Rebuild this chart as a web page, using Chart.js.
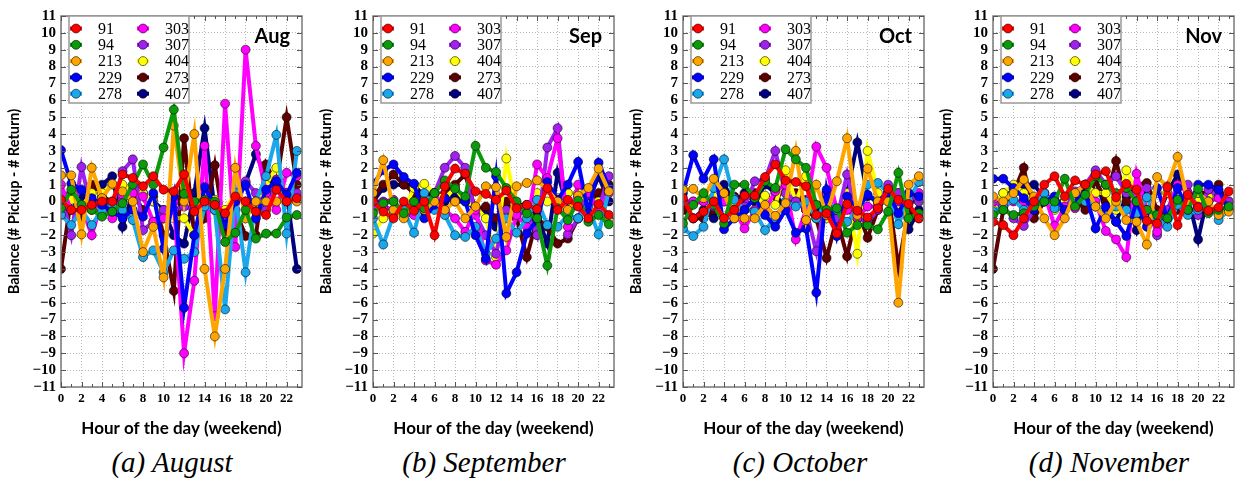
<!DOCTYPE html>
<html><head><meta charset="utf-8">
<script src="https://cdn.jsdelivr.net/npm/chart.js@4.4.0/dist/chart.umd.min.js"></script>
<style>
html,body{margin:0;padding:0;background:#fff;width:1237px;height:484px;overflow:hidden;position:relative}
.panel{position:absolute;top:0;width:310px;height:440px}
.cap{position:absolute;top:446px;font-family:"Liberation Serif",serif;font-style:italic;font-size:29px;white-space:nowrap;transform:translateX(-50%);color:#000}
</style></head><body>
<div class="panel" style="left:-2px"><canvas id="c0" width="310" height="440"></canvas></div>
<div class="panel" style="left:310px"><canvas id="c1" width="310" height="440"></canvas></div>
<div class="panel" style="left:620px"><canvas id="c2" width="310" height="440"></canvas></div>
<div class="panel" style="left:930px"><canvas id="c3" width="310" height="440"></canvas></div>
<div class="cap" style="left:172px">(a) August</div>
<div class="cap" style="left:484px">(b) September</div>
<div class="cap" style="left:800px">(c) October</div>
<div class="cap" style="left:1109px">(d) November</div>
<script>
const hours = [0,1,2,3,4,5,6,7,8,9,10,11,12,13,14,15,16,17,18,19,20,21,22,23];
const stations = ['91','94','213','229','278','303','307','404','273','407'];
const colors = ['#ff0000','#0a9a0a','#ffa500','#0000ff','#1aa7ec','#ff00ff','#a020f0','#ffff00','#5c0000','#000080'];
const monthTags = ['Aug','Sep','Oct','Nov'];
const yTicks = [-11,-10,-9,-8,-7,-6,-5,-4,-3,-2,-1,0,1,2,3,4,5,6,7,8,9,10,11];
const xTicks = [0,2,4,6,8,10,12,14,16,18,20,22];

// August
const aug91  = [0.1,-0.5,-0.5,-0.2,0,0,1.6,1.4,0.9,1.5,0.7,0.6,1.6,-0.6,0,-0.2,-0.7,0.3,0,-0.6,-0.8,0.7,0,0.2];
const aug94  = [-0.4,0.7,-0.2,-0.5,-0.9,-0.6,-0.1,1.0,2.2,1.0,3.2,5.45,0.45,0,0.1,0,-2.4,-1.85,-0.5,-2.2,-1.9,-1.9,-0.95,-0.8];
const aug213 = [1.55,1.55,-1.95,2.0,0.2,1.05,0.6,0,-3.0,-1.5,-4.5,4.5,0,4.0,-4.0,-8.0,-4.0,2.0,-1.0,0,0,0,0,0];
const aug229 = [3.05,1.05,0.7,0.2,-0.2,-0.6,-1.0,-0.5,-0.9,0.5,-2.8,0.3,-6.3,-2.0,0.85,-0.2,-1.4,0,1.0,-1.0,0.7,1.2,0.4,1.7];
const aug278 = [-0.8,-1.4,-0.5,-1.4,-0.5,-0.2,-0.5,-1.1,-3.3,-2.9,-4.2,-2.9,-3.4,-3.0,-0.3,-0.5,-6.4,0.5,-4.2,0,1.5,3.95,-1.9,3.0];
const aug303 = [1.0,-0.5,-0.3,-2.0,0,-1.0,0.4,0.5,0.3,-1.2,-1.0,0,-9.0,-4.7,3.3,-6.8,5.8,-2.7,9.0,3.3,0.5,-0.5,1.7,1.5];
const aug307 = [0.5,-2.0,2.05,-0.5,0,-0.3,1.8,2.5,-1.7,-1.2,-0.5,-0.5,-0.3,-0.5,0,-0.5,-1.0,-0.5,1.2,0.5,-0.5,1.3,0.5,0.5];
const aug404 = [0.2,0.1,-0.3,0.5,0.5,1.0,1.0,0.7,0.5,0,-1.0,-1.0,-1.0,-2.0,0.3,0.1,-0.5,0.5,0,-0.5,1.0,2.0,0.5,0.3];
const aug273 = [-4.0,0.3,-1.0,1.0,0.3,0,0,0.5,-0.5,0.3,-2.0,-5.3,3.75,-2.0,-1.0,2.15,-1.8,-0.5,-2.05,-2.0,2.2,1.0,5.0,1.0];
const aug407 = [0.3,0.5,0.2,0.8,1.0,1.5,-1.5,0.5,0.5,0,-0.5,-2.0,-2.5,0.5,4.35,-0.5,-1.0,0.5,1.1,2.8,1.5,0.8,0.5,-4.0];

// September
const sep91  = [0,-0.6,-1.0,0,-0.55,0,-2.0,0.9,1.95,1.65,0.6,0.45,0.1,0.65,-0.4,-0.2,-0.45,0.8,-0.5,0.1,-0.3,-1.0,-0.15,-0.8];
const sep94  = [-0.7,-0.1,0,-0.7,0,-0.4,0.5,1.25,0.75,0.3,3.3,2.0,1.75,0.8,0,-0.7,-1.0,-3.8,-0.4,-1.1,0.05,-1.2,-0.8,-1.35];
const sep213 = [0.5,2.45,-0.5,-1.0,0,-0.5,0,-0.5,0,-1.0,-0.3,0.9,0.85,-2.1,0.9,1.1,1.25,0.7,0,-0.5,0.35,0.8,1.95,0.6];
const sep229 = [1.05,1.85,2.2,1.45,1.05,-1.0,-0.2,0.2,0,0,-2.0,-3.4,1.5,-5.45,-4.2,-1.9,-1.1,1.15,0.1,1.0,2.35,-0.7,2.3,0.85];
const sep278 = [-1.0,-2.55,-0.8,-0.5,-1.85,0.5,-0.5,-0.8,-2.0,-2.1,-1.5,-3.1,-2.2,-1.0,-1.85,-1.0,0.1,-1.4,-1.5,-0.8,-1.0,-0.3,-1.95,0.65];
const sep303 = [-0.2,-0.3,-0.5,-0.8,-0.8,-0.3,0.5,-0.5,-1.0,-1.8,-0.5,-3.5,-3.75,-2.9,-0.8,-1.5,2.2,1.4,3.75,-1.5,1.0,0.5,-0.5,0.5];
const sep307 = [0,0,0.1,-0.8,-0.5,-0.3,0.5,2.0,2.7,2.0,-0.8,-2.0,-3.1,-0.5,-0.8,-0.5,-2.0,3.2,4.35,-1.95,-1.0,0.5,-0.5,1.5];
const sep404 = [-1.9,-1.0,-0.5,-0.5,0.8,1.05,0.5,0.2,0.8,0,-0.3,-1.0,-3.3,2.55,-0.5,-0.5,0.5,0,0.2,0.5,0.5,-0.2,0,-1.0];
const sep273 = [0.3,1.0,1.6,1.0,0.5,0.3,0.2,0.5,1.0,1.6,-0.5,-0.3,-1.0,0,-1.0,-3.3,-1.0,-1.5,-2.5,-2.2,-1.0,0,0.5,1.0];
const sep407 = [0,0.8,1.0,1.0,1.0,0.3,0.5,0,0.3,0.1,-0.5,-0.5,-1.5,-0.5,-0.2,-0.2,-0.8,-2.5,1.7,-0.5,0.3,0,1.5,0];

// October
const oct91  = [0.2,-1.0,-0.6,0,-1.0,-0.5,0.35,0.35,1.45,2.2,1.25,1.15,0.9,-0.8,-0.7,-1.9,-0.15,-0.55,-0.95,-0.4,0.75,0.1,-0.15,-1.0];
const oct94  = [-1.3,-0.2,0.5,-0.2,-1.3,1.0,1.0,0.2,1.2,0.8,3.1,2.5,2.0,-0.2,-0.5,-0.4,-1.85,-1.4,-1.4,-1.65,-0.6,1.7,-1.0,-0.7];
const oct213 = [0.7,0.75,0.2,1.35,0.5,-1.0,-1.0,-1.0,-0.2,-0.85,-0.1,3.0,-1.1,1.0,-0.8,1.2,3.75,-0.8,1.95,0,0,-6.0,1.0,1.5];
const oct229 = [0.5,2.75,1.35,2.5,-1.65,-1.0,-0.5,0.2,-0.8,-1.5,-0.5,-1.85,-1.6,-5.4,0.7,-2.05,0.3,-0.5,0.4,0,0.5,-0.7,0.5,0.3];
const oct278 = [-1.6,-2.05,-1.5,0.8,2.5,0.1,-0.5,-0.6,-1.7,-1.0,0,-0.3,0,-1.0,0,-0.5,-1.2,-0.5,1.0,1.1,0.5,-1.35,0.1,1.15];
const oct303 = [0,0,0,0,0,-0.5,-1.6,-0.5,-0.5,0.6,1.0,-2.25,-0.5,3.25,2.0,-0.5,-0.5,-1.0,-0.3,-0.3,0.7,0,0,0.5];
const oct307 = [0,-0.1,0,-0.3,0,0.2,-0.3,1.2,1.3,3.0,0.5,0,-0.5,-2.95,0.5,-1.0,1.6,-1.0,-1.2,-0.5,1.0,0.5,0,0];
const oct404 = [0,0,0.3,0.3,0.3,0,-0.5,-0.5,0.35,-0.2,1.85,0,1.5,-1.0,-1.0,-0.5,0.5,-3.1,3.0,0.5,0,-0.5,0,0];
const oct273 = [-0.5,-1.0,-1.0,-0.5,0.5,0.3,0,0.5,0.3,0,1.0,0.5,-0.5,-1.0,-3.35,-1.0,-3.25,-0.5,-2.15,-0.5,0.5,-3.9,-0.5,-1.0];
const oct407 = [-0.5,-1.0,-0.5,-1.0,1.0,0,0.5,0,1.0,0.5,-0.5,0.3,0.1,-0.5,0.5,-1.0,0.5,3.5,0.3,0,0.5,0.5,-1.65,-0.5];

// November
const nov91  = [-1.2,-1.4,-2.0,-1.0,0,1.0,1.5,0.3,1.25,1.0,1.6,1.8,0.25,1.05,0.7,-1.15,-1.3,0.85,-1.4,0.4,-0.35,-0.55,-0.35,0.6];
const nov94  = [-0.8,-0.5,-0.8,-0.7,-0.3,0,0,1.35,-0.3,0.4,1.5,1.0,0.5,0.8,0,-0.5,-0.8,-1.0,0.1,-0.5,0.75,-0.7,-0.5,-0.3];
const nov213 = [0.3,0,0.5,1.3,0.3,-1.0,-2.0,-1.0,0.5,1.0,-0.3,-1.0,0,-1.1,-1.2,-2.55,1.45,0.9,2.65,0,0.5,0,-0.8,-0.6];
const nov229 = [1.35,1.35,0.8,0.2,-0.5,0,0.3,-0.5,0,0.5,-1.6,-0.3,-1.2,-2.05,0,-1.5,0.8,-1.0,0.8,-0.5,1.0,1.0,0.7,-0.5];
const nov278 = [-0.6,-0.3,0.1,-0.5,-0.2,0.5,-0.4,-0.5,0,0,-0.3,-0.8,-0.3,-0.5,-0.7,0.25,-1.0,-1.5,-0.2,-0.8,-0.5,0,-1.1,-0.5];
const nov303 = [0,-0.3,0,0,-0.5,0.5,-1.45,-0.3,-0.4,0.8,0,-1.75,-2.25,-3.3,1.65,-0.5,-1.8,-1.0,1.0,0.5,-0.3,0,0.2,-0.3];
const nov307 = [0,-0.3,-1.0,-1.45,-0.5,0.5,0,-0.5,0.6,1.0,1.85,1.0,1.5,0.5,0.5,0.8,-2.0,-0.5,1.0,1.0,-0.8,0.7,0.3,0];
const nov404 = [-0.5,0.5,1.0,0.5,0,0,-0.5,0,0.3,1.0,0.5,0.5,-0.5,1.85,0.5,0,0.5,0.5,0,0.3,0,0.3,0.3,0];
const nov273 = [-4.0,-0.5,0.5,2.0,-1.0,0,0,0,0.2,-0.5,1.3,0,2.4,0,1.0,1.1,-0.5,-0.8,-0.5,0,0.5,0.5,1.0,-0.5];
const nov407 = [-0.5,0.5,0.8,1.0,1.0,0.2,-0.2,-0.3,0.5,-0.3,1.3,-0.5,-1.2,0.3,-1.7,0.5,-1.0,0.5,1.6,0.3,-2.25,0.5,0.5,-0.5];

const monthSeries = [
  [aug91,aug94,aug213,aug229,aug278,aug303,aug307,aug404,aug273,aug407],
  [sep91,sep94,sep213,sep229,sep278,sep303,sep307,sep404,sep273,sep407],
  [oct91,oct94,oct213,oct229,oct278,oct303,oct307,oct404,oct273,oct407],
  [nov91,nov94,nov213,nov229,nov278,nov303,nov307,nov404,nov273,nov407]
];

const frameLegend = {
  id: 'frameLegend',
  afterDatasetsDraw(chart) {
    const {ctx, chartArea: a} = chart;
    ctx.save();
    ctx.strokeStyle = '#7a7a7a';
    ctx.lineWidth = 1.5;
    ctx.strokeRect(a.left, a.top, a.right - a.left, a.bottom - a.top);
    ctx.lineWidth = 1;
    ctx.strokeStyle = '#555';
    const xs = chart.scales.x, ys = chart.scales.y;
    hours.forEach(h => {
      const px = Math.round(xs.getPixelForValue(h)) + 0.5;
      const L = h % 2 === 0 ? 5 : 3;
      ctx.beginPath();
      ctx.moveTo(px, a.bottom); ctx.lineTo(px, a.bottom - L);
      ctx.moveTo(px, a.top); ctx.lineTo(px, a.top + L);
      ctx.stroke();
    });
    yTicks.forEach(v => {
      const py = Math.round(ys.getPixelForValue(v)) + 0.5;
      ctx.beginPath();
      ctx.moveTo(a.left, py); ctx.lineTo(a.left + 5, py);
      ctx.moveTo(a.right, py); ctx.lineTo(a.right - 5, py);
      ctx.stroke();
    });
    ctx.restore();
  },
  afterDraw(chart, args, opts) {
    const {ctx, chartArea: a} = chart;
    ctx.save();
    const bx = a.left + 8, by = a.top, bw = 120, bh = 87;
    ctx.fillStyle = '#fff';
    ctx.fillRect(bx, by, bw, bh);
    ctx.strokeStyle = '#999';
    ctx.lineWidth = 1.5;
    ctx.strokeRect(bx, by, bw, bh);
    chart.data.datasets.forEach((ds, i) => {
      const col = Math.floor(i / 5), row = i % 5;
      const mx = bx + 7 + col * 67, my = by + 12.5 + row * 16.3;
      ctx.strokeStyle = ds.borderColor; ctx.lineWidth = 4;
      ctx.beginPath(); ctx.moveTo(mx - 6, my); ctx.lineTo(mx + 6, my); ctx.stroke();
      ctx.beginPath(); ctx.arc(mx, my, 4.5, 0, 2 * Math.PI);
      ctx.fillStyle = ds.backgroundColor; ctx.fill();
      ctx.lineWidth = 1; ctx.strokeStyle = 'rgba(0,0,0,0.55)'; ctx.stroke();
      ctx.fillStyle = '#000';
      ctx.font = '16px "Liberation Serif", serif';
      ctx.textBaseline = 'middle'; ctx.textAlign = 'left';
      ctx.fillText(ds.label, mx + 22, my + 1);
    });
    ctx.font = 'bold 20px Lato, sans-serif';
    ctx.textAlign = 'right'; ctx.textBaseline = 'middle';
    ctx.fillStyle = '#000';
    ctx.fillText(opts.tag, a.right - 12, a.top + 21);
    ctx.restore();
  }
};

monthSeries.forEach((series, m) => {
  const datasets = series.map((vals, i) => ({
    label: stations[i],
    data: vals.map((v, k) => ({x: hours[k], y: v})),
    borderColor: colors[i],
    backgroundColor: colors[i],
    borderWidth: 4,
    pointRadius: 4.5,
    pointBorderWidth: 1,
    pointBorderColor: 'rgba(0,0,0,0.55)',
    pointBackgroundColor: colors[i],
    tension: 0
  }));
  new Chart(document.getElementById('c' + m), {
    type: 'line',
    data: {datasets},
    plugins: [frameLegend],
    options: {
      responsive: false,
      animation: false,
      events: [],
      layout: {padding: {left: 0, right: 6, top: 16, bottom: 0}},
      plugins: {
        legend: {display: false},
        tooltip: {enabled: false},
        frameLegend: {tag: monthTags[m]}
      },
      scales: {
        x: {
          type: 'linear', min: 0, max: 23.5,
          afterBuildTicks: s => { s.ticks = xTicks.map(v => ({value: v})); },
          afterFit: s => { s.height = 53; },
          grid: {color: '#b8b8b8', lineWidth: 1, drawTicks: false},
          border: {display: false, dash: [1, 2]},
          ticks: {padding: 4, maxRotation: 0, autoSkip: false, color: '#000',
                  font: {family: '"Liberation Serif", serif', weight: 'bold', size: 13}},
          title: {display: true, text: 'Hour of the day (weekend)', color: '#000',
                  font: {family: 'Lato, sans-serif', weight: 'bold', size: 17}, padding: {top: 0, bottom: 1}}
        },
        y: {
          min: -11, max: 11,
          afterBuildTicks: s => { s.ticks = yTicks.map(v => ({value: v})); },
          afterFit: s => { s.width = 63; },
          grid: {color: '#b8b8b8', lineWidth: 1, drawTicks: false},
          border: {display: false, dash: [1, 2]},
          ticks: {padding: 5, color: '#000', autoSkip: false,
                  callback: v => v < 0 ? '\u2212' + Math.abs(v) : String(v),
                  font: {family: '"Liberation Serif", serif', weight: 'bold', size: 15}},
          title: {display: true, text: 'Balance (# Pickup - # Return)', color: '#000',
                  font: {family: 'Lato, sans-serif', weight: 'bold', size: 14.5}, padding: {top: 8, bottom: 0}}
        }
      }
    }
  });
});
</script>
</body></html>
